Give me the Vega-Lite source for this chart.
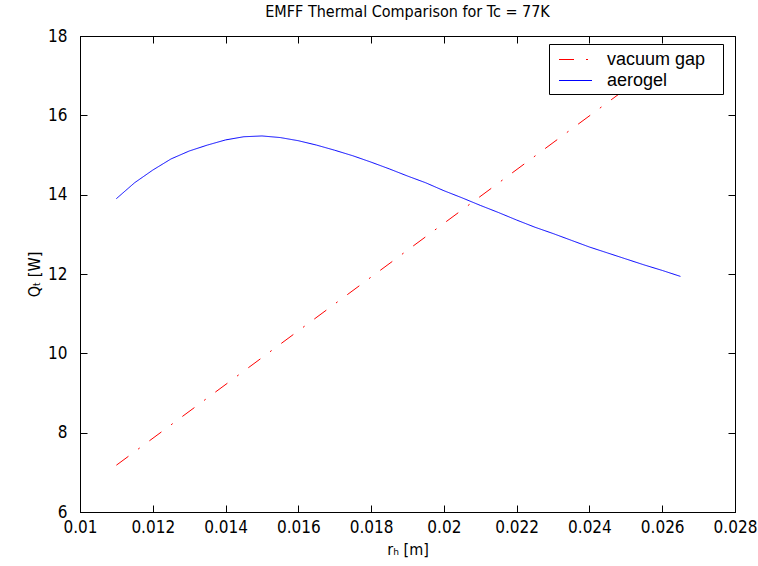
{
  "$schema": "https://vega.github.io/schema/vega-lite/v6.json",
  "width": 655,
  "height": 476,
  "autosize": {"type": "none"},
  "padding": {"left": 80, "top": 36, "right": 23, "bottom": 54},
  "background": "white",
  "title": {
    "text": "EMFF Thermal Comparison for Tc = 77K",
    "font": "Liberation Sans Narrow, DejaVu Sans Condensed, Liberation Sans",
    "fontSize": 16,
    "fontWeight": "normal",
    "color": "black",
    "anchor": "middle",
    "offset": 7
  },
  "config": {
    "view": {"stroke": "black", "strokeWidth": 1},
    "axis": {
      "domainColor": "black",
      "tickColor": "black",
      "labelColor": "black",
      "titleColor": "black",
      "labelFont": "Liberation Sans Narrow, DejaVu Sans Condensed, Liberation Sans",
      "titleFont": "Liberation Sans Narrow, DejaVu Sans Condensed, Liberation Sans",
      "labelFontSize": 17,
      "titleFontSize": 16,
      "titleFontWeight": "normal",
      "grid": false,
      "tickSize": -7
    },
    "legend": {
      "labelFont": "Liberation Sans, DejaVu Sans",
      "labelFontSize": 18,
      "labelColor": "black"
    }
  },
  "data": {
    "values": [
      {"series": "vacuum gap", "r": 0.011, "q": 7.18},
      {"series": "vacuum gap", "r": 0.015, "q": 9.89},
      {"series": "vacuum gap", "r": 0.019, "q": 12.60},
      {"series": "vacuum gap", "r": 0.023, "q": 15.31},
      {"series": "vacuum gap", "r": 0.0265, "q": 17.68},
      {"series": "aerogel", "r": 0.011, "q": 13.90},
      {"series": "aerogel", "r": 0.0115, "q": 14.30},
      {"series": "aerogel", "r": 0.012, "q": 14.62},
      {"series": "aerogel", "r": 0.0125, "q": 14.90},
      {"series": "aerogel", "r": 0.013, "q": 15.10},
      {"series": "aerogel", "r": 0.0135, "q": 15.25},
      {"series": "aerogel", "r": 0.014, "q": 15.38},
      {"series": "aerogel", "r": 0.0145, "q": 15.46},
      {"series": "aerogel", "r": 0.015, "q": 15.48},
      {"series": "aerogel", "r": 0.0155, "q": 15.44},
      {"series": "aerogel", "r": 0.016, "q": 15.36},
      {"series": "aerogel", "r": 0.0165, "q": 15.25},
      {"series": "aerogel", "r": 0.017, "q": 15.12},
      {"series": "aerogel", "r": 0.0175, "q": 14.98},
      {"series": "aerogel", "r": 0.018, "q": 14.82},
      {"series": "aerogel", "r": 0.0185, "q": 14.65},
      {"series": "aerogel", "r": 0.019, "q": 14.47},
      {"series": "aerogel", "r": 0.0195, "q": 14.30},
      {"series": "aerogel", "r": 0.02, "q": 14.10},
      {"series": "aerogel", "r": 0.0205, "q": 13.92},
      {"series": "aerogel", "r": 0.021, "q": 13.73},
      {"series": "aerogel", "r": 0.0215, "q": 13.55},
      {"series": "aerogel", "r": 0.022, "q": 13.36},
      {"series": "aerogel", "r": 0.0225, "q": 13.18},
      {"series": "aerogel", "r": 0.023, "q": 13.02},
      {"series": "aerogel", "r": 0.0235, "q": 12.85},
      {"series": "aerogel", "r": 0.024, "q": 12.68},
      {"series": "aerogel", "r": 0.0245, "q": 12.53},
      {"series": "aerogel", "r": 0.025, "q": 12.38},
      {"series": "aerogel", "r": 0.0255, "q": 12.23},
      {"series": "aerogel", "r": 0.026, "q": 12.09},
      {"series": "aerogel", "r": 0.0265, "q": 11.94}
    ]
  },
  "resolve": {"axis": {"x": "independent", "y": "independent"}},
  "layer": [
    {
      "mark": {"type": "line", "strokeWidth": 1, "clip": true},
      "encoding": {
        "x": {
          "field": "r",
          "type": "quantitative",
          "scale": {"domain": [0.01, 0.028], "nice": false, "zero": false},
          "axis": {
            "orient": "bottom",
            "values": [0.01, 0.012, 0.014, 0.016, 0.018, 0.02, 0.022, 0.024, 0.026, 0.028],
            "format": "~g",
            "title": "rₕ [m]",
            "labelPadding": 14,
            "titlePadding": 6,
            "labelFlush": false,
            "labelOverlap": false
          }
        },
        "y": {
          "field": "q",
          "type": "quantitative",
          "scale": {"domain": [6, 18], "nice": false, "zero": false},
          "axis": {
            "orient": "left",
            "values": [6, 8, 10, 12, 14, 16, 18],
            "title": "Qₜ [W]",
            "labelPadding": 20,
            "titlePadding": 5,
            "labelFlush": false,
            "labelOverlap": false
          }
        },
        "color": {
          "field": "series",
          "type": "nominal",
          "scale": {"domain": ["vacuum gap", "aerogel"], "range": ["#ff0000", "#0000ff"]},
          "legend": {
            "title": null,
            "orient": "none",
            "legendX": 469,
            "legendY": 8,
            "fillColor": "white",
            "strokeColor": "black",
            "padding": 4,
            "symbolType": "M-0.5,0L2.5,0",
            "symbolSize": 484,
            "symbolStrokeWidth": 1,
            "labelOffset": 31,
            "rowPadding": 0,
            "labelExpr": "datum.label + '\u2800'"
          }
        },
        "strokeDash": {
          "field": "series",
          "type": "nominal",
          "scale": {"domain": ["vacuum gap", "aerogel"], "range": [[15, 12, 2, 12], [1, 0]]},
          "legend": {
            "title": null,
            "orient": "none",
            "legendX": 469,
            "legendY": 8,
            "fillColor": "white",
            "strokeColor": "black",
            "padding": 4,
            "symbolType": "M-0.5,0L2.5,0",
            "symbolSize": 484,
            "symbolStrokeWidth": 1,
            "labelOffset": 31,
            "rowPadding": 0,
            "labelExpr": "datum.label + '\u2800'"
          }
        }
      }
    },
    {
      "mark": {"type": "point", "opacity": 0},
      "encoding": {
        "x": {
          "field": "r",
          "type": "quantitative",
          "axis": {
            "orient": "top",
            "values": [0.01, 0.012, 0.014, 0.016, 0.018, 0.02, 0.022, 0.024, 0.026, 0.028],
            "labels": false,
            "domain": false,
            "title": null
          }
        },
        "y": {
          "field": "q",
          "type": "quantitative",
          "axis": {
            "orient": "right",
            "values": [6, 8, 10, 12, 14, 16, 18],
            "labels": false,
            "domain": false,
            "title": null
          }
        }
      }
    }
  ]
}
